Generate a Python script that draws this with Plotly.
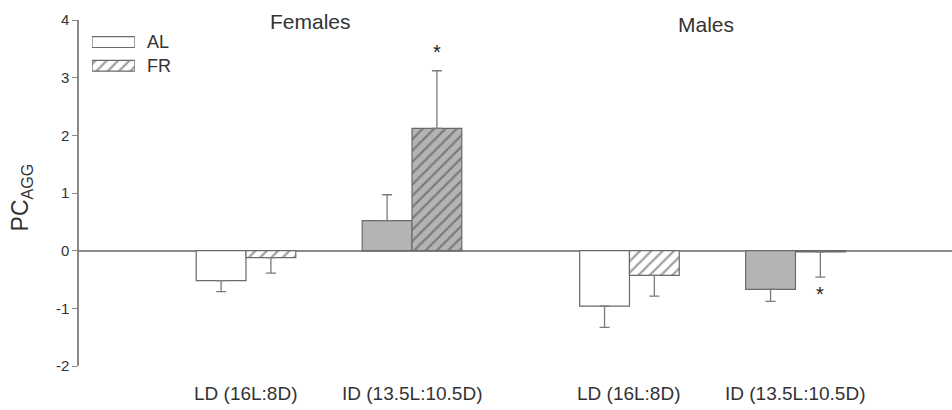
import plotly.graph_objects as go

# ---- data ----
conditions = ["LD (16L:8D)", "ID (13.5L:10.5D)", "LD (16L:8D)", "ID (13.5L:10.5D)"]
sexes = ["Females", "Males"]
al_mean = [-0.52, 0.52, -0.96, -0.67]
al_err = [0.19, 0.45, 0.37, 0.21]
fr_mean = [-0.12, 2.12, -0.43, -0.02]
fr_err = [0.27, 1.00, 0.36, 0.44]
significant_fr = [False, True, False, True]
legend_names = ["AL", "FR"]
y_ticks = [-2, -1, 0, 1, 2, 3, 4]

# ---- layout constants ----
group_pos = [0.0, 1.0, 2.31, 3.31]
sex_title_pos = [(0.39, 3.97), (2.77, 3.93)]
bw = 0.3
LD_COLOR = "#ffffff"
ID_COLOR = "#b4b4b4"
EDGE = "#6a6a6a"
ERR = "#7a7a7a"
FONT = "Arial, Liberation Sans, sans-serif"
TXT = "#333333"
HATCH = dict(shape="/", fgcolor="#444444", size=8, solidity=0.28)

fill = [LD_COLOR if c.startswith("LD") else ID_COLOR for c in conditions]


def err_dict(means, errs):
    plus = [e if m >= 0 else 0 for m, e in zip(means, errs)]
    minus = [e if m < 0 else 0 for m, e in zip(means, errs)]
    return dict(type="data", symmetric=False, array=plus, arrayminus=minus,
                color=ERR, thickness=1.3, width=5)


fig = go.Figure()
fig.add_trace(go.Bar(
    x=[p - bw / 2 for p in group_pos], y=al_mean, width=bw,
    marker=dict(color=fill, line=dict(color=EDGE, width=1.2)),
    error_y=err_dict(al_mean, al_err), showlegend=False, name="AL"))
fig.add_trace(go.Bar(
    x=[p + bw / 2 for p in group_pos], y=fr_mean, width=bw,
    marker=dict(color=fill, line=dict(color=EDGE, width=1.2), pattern=HATCH),
    error_y=err_dict(fr_mean, fr_err), showlegend=False, name="FR"))

# legend swatches (wide rectangles)
fig.add_trace(go.Bar(
    x=[1, 1], y=[1, 0], orientation="h", width=0.46, xaxis="x2", yaxis="y2",
    marker=dict(color=["#ffffff", "#ffffff"], line=dict(color=EDGE, width=1.2),
                pattern=dict(shape=["", "/"], fgcolor="#444444", size=8, solidity=0.28)),
    showlegend=False, hoverinfo="skip"))

annotations = []
for name, yv in zip(legend_names, [1, 0]):
    annotations.append(dict(x=0.076, xref="paper", y=yv, yref="y2", text=name,
                            showarrow=False, xanchor="left", yanchor="middle",
                            font=dict(family=FONT, size=18, color=TXT)))

for lab, xp in zip(conditions, group_pos):
    annotations.append(dict(x=xp, y=-2, xref="x", yref="y", text=lab, showarrow=False,
                            xanchor="center", yanchor="middle", yshift=-27,
                            font=dict(family=FONT, size=19, color=TXT)))

for s, (xp, yp) in zip(sexes, sex_title_pos):
    annotations.append(dict(x=xp, y=yp, xref="x", yref="y", text=s, showarrow=False,
                            xanchor="center", yanchor="middle",
                            font=dict(family=FONT, size=21, color=TXT)))

for sig, p, m, e in zip(significant_fr, group_pos, fr_mean, fr_err):
    if sig:
        if m >= 0:
            yv, anchor, shift = m + e, "bottom", 6
        else:
            yv, anchor, shift = m - e, "top", -4
        annotations.append(dict(x=p + bw / 2, y=yv, xref="x", yref="y", text="*",
                                showarrow=False, xanchor="center", yanchor=anchor,
                                yshift=shift,
                                font=dict(family=FONT, size=20, color="#222222")))

annotations.append(dict(x=-0.066, xref="paper", y=0.93, yref="y",
                        text="PC<sub>AGG</sub>", showarrow=False, textangle=-90,
                        xanchor="center", yanchor="middle",
                        font=dict(family=FONT, size=23, color=TXT)))

fig.update_layout(
    width=952, height=410,
    margin=dict(l=79, r=0, t=20, b=44),
    paper_bgcolor="white", plot_bgcolor="white",
    barmode="overlay",
    font=dict(family=FONT, color=TXT),
    xaxis=dict(range=[-1.006, 4.253], showgrid=False, zeroline=False,
               showticklabels=False, ticks="", showline=False),
    yaxis=dict(range=[-2, 4], tickvals=y_ticks, ticktext=[str(t) for t in y_ticks],
               showgrid=False,
               zeroline=True, zerolinecolor="#8a8a8a", zerolinewidth=1.5,
               showline=True, linecolor="#8a8a8a", linewidth=1.5,
               ticks="outside", ticklen=5, tickcolor="#8a8a8a", tickwidth=1.2,
               tickfont=dict(family=FONT, size=15, color=TXT)),
    xaxis2=dict(domain=[0.0149, 0.064], range=[0, 1], visible=False, anchor="y2"),
    yaxis2=dict(domain=[0.8335, 0.9705], range=[-0.5, 1.5], visible=False, anchor="x2"),
    annotations=annotations,
)

fig.write_html("out.html")
